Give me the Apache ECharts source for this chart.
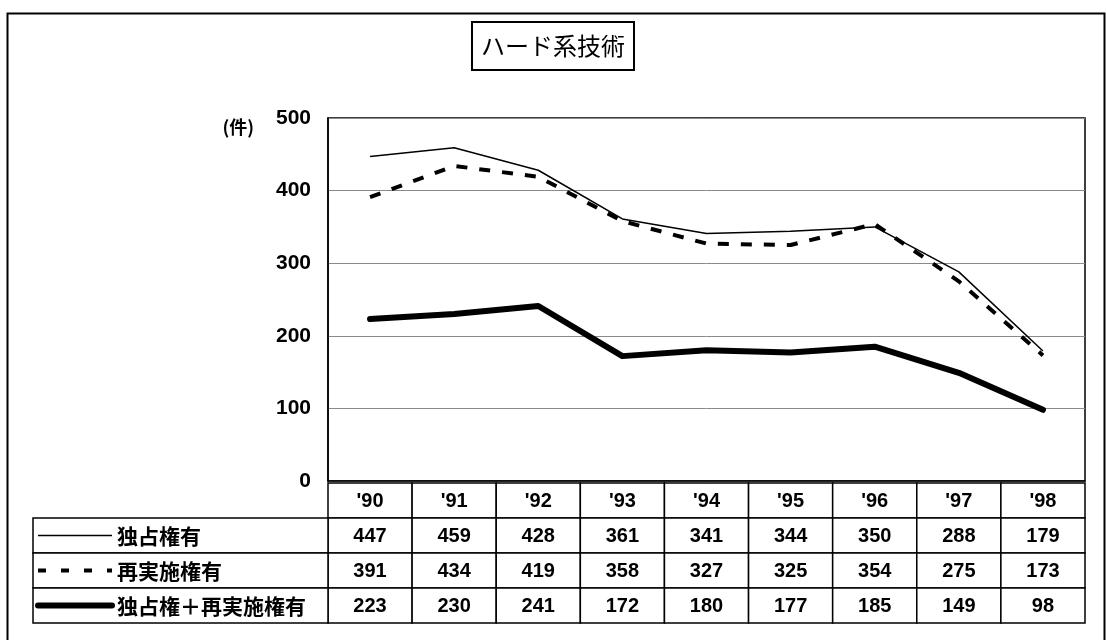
<!DOCTYPE html>
<html>
<head>
<meta charset="utf-8">
<script src="https://cdn.jsdelivr.net/npm/echarts@6/dist/echarts.min.js"></script>
<style>
  html, body { margin: 0; padding: 0; background: #fff; }
  #chart { width: 1106px; height: 640px; }
</style>
</head>
<body>
<div id="chart"></div>
<script>
// ---- data ----
const titleText = 'ハード系技術';
const unitLabel = '(件)';
const categories = ["'90", "'91", "'92", "'93", "'94", "'95", "'96", "'97", "'98"];
const seriesNames = ['独占権有', '再実施権有', '独占権＋再実施権有'];
const exclusiveRights = [447, 459, 428, 361, 341, 344, 350, 288, 179];
const relicenseRights = [391, 434, 419, 358, 327, 325, 354, 275, 173];
const bothRights = [223, 230, 241, 172, 180, 177, 185, 149, 98];
const yMin = 0, yMax = 500, yStep = 100;

// ---- styles ----
const NUM_FONT = "'Liberation Sans', Arial, sans-serif";
const JP_FONT = "'Noto Sans CJK JP', 'Liberation Sans', sans-serif";
const lineStyles = [
  { width: 1.5, type: 'solid' },
  { width: 4, type: [11, 12] },
  { width: 6, type: 'solid' }
];
const valueRows = [exclusiveRights, relicenseRights, bothRights];

const chart = echarts.init(document.getElementById('chart'), null, { renderer: 'canvas' });

const tableData = [];
for (let r = 0; r <= valueRows.length; r++) {
  for (let c = 0; c < categories.length; c++) tableData.push([c, r]);
}
const labelData = seriesNames.map((_, i) => [0, i]);

const option = {
  backgroundColor: '#fff',
  animation: false,
  title: {
    text: titleText,
    left: 'center',
    top: 22,
    borderColor: '#000',
    borderWidth: 2,
    padding: [11, 9],
    textStyle: { fontFamily: JP_FONT, fontSize: 24, fontWeight: 'normal', color: '#000', lineHeight: 26 }
  },
  graphic: [{
    type: 'rect', left: 5, top: 11, z: -10, silent: true,
    shape: { width: 1097, height: 660 },
    style: { fill: 'none', stroke: '#000', lineWidth: 2 }
  }],
  grid: [
    { left: 328, right: 21, top: 118, height: 363, show: true, borderColor: '#000', borderWidth: 1.5, backgroundColor: '#fff' },
    { left: 328, right: 21, top: 483, height: 140 },
    { left: 33, width: 295, top: 518, height: 105 }
  ],
  xAxis: [
    { type: 'category', gridIndex: 0, data: categories, boundaryGap: true,
      axisLine: { show: true, lineStyle: { color: '#000', width: 1.5 } },
      axisTick: { show: false }, axisLabel: { show: false }, splitLine: { show: false } },
    { type: 'category', gridIndex: 1, data: categories, show: false },
    { type: 'category', gridIndex: 2, data: ['label'], show: false }
  ],
  yAxis: [
    { type: 'value', gridIndex: 0, min: yMin, max: yMax, interval: yStep,
      name: unitLabel, nameLocation: 'end', nameGap: -9,
      nameTextStyle: { fontFamily: JP_FONT, fontSize: 18, fontWeight: 'bold', color: '#000', align: 'right', verticalAlign: 'middle', padding: [0, 74, 0, 0] },
      axisLine: { show: true, lineStyle: { color: '#000', width: 1.5 } },
      axisTick: { show: false },
      axisLabel: { margin: 17, fontFamily: NUM_FONT, fontSize: 21, fontWeight: 'bold', color: '#000' },
      splitLine: { show: true, lineStyle: { color: '#8a8a8a', width: 1 } } },
    { type: 'category', gridIndex: 1, data: ['hdr', 'r0', 'r1', 'r2'], inverse: true, show: false },
    { type: 'category', gridIndex: 2, data: ['r0', 'r1', 'r2'], inverse: true, show: false }
  ],
  series: [
    { name: seriesNames[0], type: 'line', xAxisIndex: 0, yAxisIndex: 0, data: exclusiveRights,
      symbol: 'none', lineStyle: { color: '#000', width: lineStyles[0].width, type: lineStyles[0].type } },
    { name: seriesNames[1], type: 'line', xAxisIndex: 0, yAxisIndex: 0, data: relicenseRights,
      symbol: 'none', lineStyle: { color: '#000', width: lineStyles[1].width, type: lineStyles[1].type } },
    { name: seriesNames[2], type: 'line', xAxisIndex: 0, yAxisIndex: 0, data: bothRights,
      symbol: 'none', lineStyle: { color: '#000', width: lineStyles[2].width, type: lineStyles[2].type, cap: 'round', join: 'round' } },
    { type: 'custom', xAxisIndex: 1, yAxisIndex: 1, data: tableData, silent: true,
      renderItem: function (params, api) {
        const c = api.value(0), r = api.value(1);
        const p = api.coord([c, r]);
        const s = api.size([1, 1]);
        const txt = r === 0 ? categories[c] : String(valueRows[r - 1][c]);
        return { type: 'group', children: [
          { type: 'rect', shape: { x: p[0] - s[0] / 2, y: p[1] - s[1] / 2, width: s[0], height: s[1] },
            style: { fill: '#fff', stroke: '#000', lineWidth: 1.5 } },
          { type: 'text', x: p[0], y: p[1] + 1,
            style: { text: txt, align: 'center', verticalAlign: 'middle', fontFamily: NUM_FONT, fontSize: 20, fontWeight: 'bold', fill: '#000' } }
        ] };
      } },
    { type: 'custom', xAxisIndex: 2, yAxisIndex: 2, data: labelData, silent: true,
      renderItem: function (params, api) {
        const r = api.value(1);
        const p = api.coord([0, r]);
        const s = api.size([1, 1]);
        const x0 = p[0] - s[0] / 2, y0 = p[1] - s[1] / 2;
        const ls = lineStyles[r];
        return { type: 'group', children: [
          { type: 'rect', shape: { x: x0, y: y0, width: s[0], height: s[1] },
            style: { fill: '#fff', stroke: '#000', lineWidth: 1.5 } },
          { type: 'line', shape: { x1: x0 + 5, y1: p[1], x2: x0 + 79, y2: p[1] },
            style: { stroke: '#000', lineWidth: ls.width, lineDash: Array.isArray(ls.type) ? [8, 15] : null, lineCap: r === 2 ? 'round' : 'butt' } },
          { type: 'text', x: x0 + 84, y: p[1] + 1,
            style: { text: seriesNames[r], align: 'left', verticalAlign: 'middle', fontFamily: JP_FONT, fontSize: 21, fontWeight: 'bold', fill: '#000' } }
        ] };
      } }
  ]
};
chart.setOption(option);
</script>
</body>
</html>
